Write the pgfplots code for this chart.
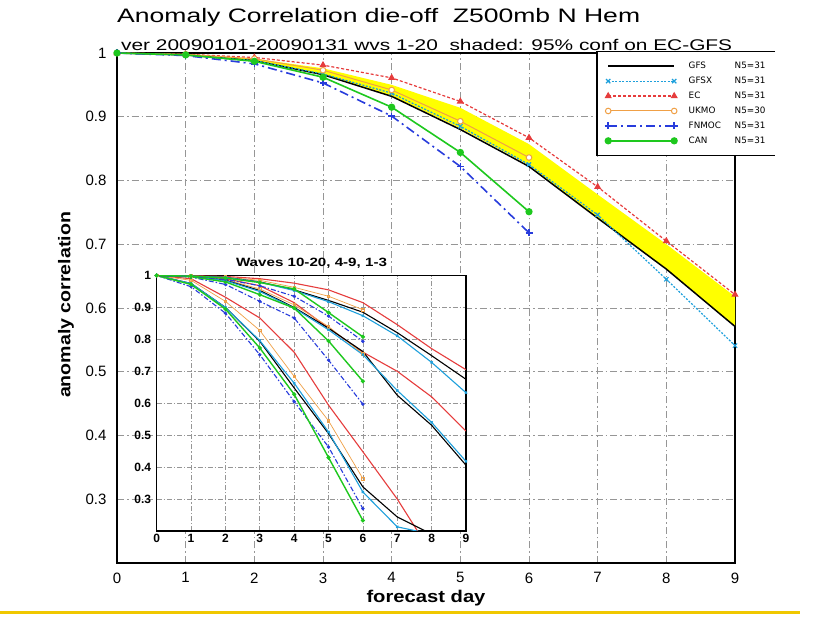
\documentclass[border=0pt]{standalone}
\usepackage{fontspec}
\setmainfont{Liberation Sans}
\newfontfamily\legfont{DejaVu Sans}
\usepackage{graphicx}
\usepackage{pgfplots}
\usepackage{pgfplotstable}
\pgfplotsset{compat=1.18}
\usepgfplotslibrary{fillbetween}

\definecolor{cGFSX}{RGB}{30,160,220}
\definecolor{cEC}{RGB}{230,60,60}
\definecolor{cUK}{RGB}{240,160,70}
\definecolor{cFN}{RGB}{40,60,220}
\definecolor{cCAN}{RGB}{30,200,30}
\definecolor{cBand}{RGB}{255,255,0}
\definecolor{cGold}{RGB}{240,200,0}
\definecolor{cGrid}{RGB}{150,150,150}

\pgfplotstableread{
d GFS GFSX EC UKMO FNMOC CAN lo hi
0 1 1 1 1 1 1 1 1
1 0.997 0.997 0.998 0.998 0.996 0.997 0.997 0.998
2 0.988 0.988 0.993 0.991 0.983 0.987 0.988 0.991
3 0.966 0.967 0.981 0.973 0.953 0.962 0.966 0.976
4 0.932 0.937 0.961 0.942 0.901 0.915 0.933 0.950
5 0.880 0.885 0.924 0.893 0.822 0.844 0.882 0.914
6 0.822 0.825 0.867 0.836 0.718 0.751 0.824 0.857
7 0.741 0.746 0.790 nan nan nan 0.740 0.778
8 0.661 0.645 0.705 nan nan nan 0.661 0.700
9 0.571 0.541 0.621 nan nan nan 0.571 0.618
}\mainT

% waves 1-3
\pgfplotstableread{
d GFS GFSX EC UKMO FNMOC CAN
0 1 1 1 1 1 1
1 0.998 0.998 0.999 0.999 0.997 0.998
2 0.994 0.994 0.997 0.995 0.988 0.992
3 0.980 0.979 0.990 0.985 0.968 0.978
4 0.955 0.953 0.976 0.963 0.935 0.958
5 0.922 0.918 0.955 0.935 0.873 0.884
6 0.885 0.874 0.915 0.893 0.794 0.808
7 0.821 0.811 0.846 nan nan nan
8 0.749 0.728 0.771 nan nan nan
9 0.675 0.633 0.705 nan nan nan
}\wA

% waves 4-9
\pgfplotstableread{
d GFS GFSX EC UKMO FNMOC CAN
0 1 1 1 1 1 1
1 0.997 0.997 0.998 0.997 0.995 0.996
2 0.985 0.984 0.990 0.987 0.972 0.980
3 0.953 0.950 0.968 0.958 0.919 0.940
4 0.900 0.898 0.915 0.908 0.867 0.898
5 0.835 0.830 0.835 0.840 0.735 0.795
6 0.762 0.752 0.760 0.755 0.597 0.669
7 0.625 0.640 0.700 nan nan nan
8 0.531 0.540 0.620 nan nan nan
9 0.406 0.418 0.513 nan nan nan
}\wB

% waves 10-20
\pgfplotstableread{
d GFS GFSX EC UKMO FNMOC CAN
0 1 1 1 1 1 1
1 0.975 0.975 0.990 0.985 0.965 0.972
2 0.900 0.900 0.932 0.919 0.882 0.895
3 0.794 0.796 0.867 0.828 0.752 0.773
4 0.648 0.663 0.760 0.684 0.605 0.628
5 0.505 0.510 0.594 0.545 0.463 0.430
6 0.338 0.322 0.448 0.364 0.270 0.233
7 0.244 0.213 0.300 nan nan nan
8 0.190 0.190 0.130 nan nan nan
}\wC

\pgfplotsset{
 iGFS/.style={black, line width=1.1pt, no markers},
 iGFSX/.style={cGFSX, line width=1.1pt, mark=x, mark size=1.5pt},
 iEC/.style={cEC, line width=1.1pt, no markers},
 iUK/.style={cUK, line width=0.7pt, mark=square, mark size=1.3pt},
 iFN/.style={cFN, line width=1.1pt, dash pattern=on 5pt off 2pt on 1.5pt off 2pt, mark=*, mark size=1.1pt, mark options={solid}},
 iCAN/.style={cCAN, line width=1.4pt, mark=*, mark size=1.3pt},
}

\begin{document}
\begin{tikzpicture}

\begin{axis}[
 at={(117pt,55pt)}, anchor=south west, scale only axis,
 width=618pt, height=510pt,
 xmin=0, xmax=9, ymin=0.2, ymax=1,
 xtick={0,1,2,3,4,5,6,7,8,9},
 ytick={0.3,0.4,0.5,0.6,0.7,0.8,0.9,1},
 major tick length=0pt,
 grid=major,
 grid style={cGrid, line width=0.7pt, dash pattern=on 7pt off 3pt on 1.5pt off 3pt},
 axis line style={line width=1.3pt},
 /pgf/number format/assume math mode=true,
 ticklabel style={font=\fontsize{15}{15}\selectfont},
 xticklabel style={yshift=-6pt},
 yticklabel style={xshift=-7pt},
 legend style={at={(rel axis cs:0.7767,1.003)}, anchor=north west, draw=none,
   name=leg, fill=white, line width=1.4pt, font=\legfont\fontsize{8.8}{9}\selectfont,
   inner xsep=7pt, inner ysep=8pt, row sep=2.9pt,
   /tikz/every odd column/.append style={column sep=9pt}},
 legend cell align=left,
 legend image code/.code={\draw[mark repeat=2,mark phase=1] plot coordinates {(0pt,0pt) (33pt,0pt) (66pt,0pt)};},
]
\addplot[draw=none, name path=lo, forget plot] table[x=d,y=lo]{\mainT};
\addplot[draw=none, name path=hi, forget plot] table[x=d,y=hi]{\mainT};
\addplot[fill=cBand, draw=none, forget plot] fill between[of=lo and hi];

\addplot[black, line width=1.5pt, no markers] table[x=d,y=GFS]{\mainT};
\addlegendentry{\makebox[46pt][l]{GFS}N5=31}
\addplot[cGFSX, line width=1.2pt, dash pattern=on 2pt off 1.5pt, mark=x, mark size=3pt, mark options={solid}] table[x=d,y=GFSX]{\mainT};
\addlegendentry{\makebox[46pt][l]{GFSX}N5=31}
\addplot[cEC, line width=1.2pt, dash pattern=on 3pt off 2pt, mark=triangle*, mark size=3pt, mark options={solid}] table[x=d,y=EC]{\mainT};
\addlegendentry{\makebox[46pt][l]{EC}N5=31}
\addplot[cUK, line width=1pt, mark=*, mark size=2.8pt, mark options={fill=white, solid}] table[x=d,y=UKMO]{\mainT};
\addlegendentry{\makebox[46pt][l]{UKMO}N5=30}
\addplot[cFN, line width=1.6pt, dash pattern=on 9pt off 4pt on 2pt off 4pt, mark=+, mark size=3.5pt, mark options={solid}] table[x=d,y=FNMOC]{\mainT};
\addlegendentry{\makebox[46pt][l]{FNMOC}N5=31}
\addplot[cCAN, line width=1.6pt, mark=*, mark size=2.8pt] table[x=d,y=CAN]{\mainT};
\addlegendentry{\makebox[46pt][l]{CAN}N5=31}
\end{axis}
\draw[line width=1.2pt] (leg.north east) -- (leg.north west) -- (leg.south west) -- (leg.south east);

\begin{axis}[
 at={(156.7pt,87pt)}, anchor=south west, scale only axis,
 width=309.3pt, height=255.5pt,
 xmin=0, xmax=9, ymin=0.2, ymax=1,
 xtick={0,1,2,3,4,5,6,7,8,9},
 ytick={0.3,0.4,0.5,0.6,0.7,0.8,0.9,1},
 axis background/.style={fill=white},
 major tick length=0pt,
 grid=major,
 grid style={cGrid, line width=0.6pt, dash pattern=on 5pt off 2pt on 1.2pt off 2pt},
 axis line style={line width=1.5pt},
 /pgf/number format/assume math mode=true,
 ticklabel style={font=\bfseries\fontsize{12}{12}\selectfont},
 xticklabel style={yshift=0pt},
 yticklabel style={xshift=-2pt},
]
% waves 10-20
\addplot[iEC] table[x=d,y=EC]{\wC};
\addplot[iUK] table[x=d,y=UKMO]{\wC};
\addplot[iGFS] table[x=d,y=GFS]{\wC};
\addplot[iGFSX] table[x=d,y=GFSX]{\wC};
\addplot[iFN] table[x=d,y=FNMOC]{\wC};
\addplot[iCAN] table[x=d,y=CAN]{\wC};
% waves 4-9
\addplot[iEC] table[x=d,y=EC]{\wB};
\addplot[iUK] table[x=d,y=UKMO]{\wB};
\addplot[iGFS] table[x=d,y=GFS]{\wB};
\addplot[iGFSX] table[x=d,y=GFSX]{\wB};
\addplot[iFN] table[x=d,y=FNMOC]{\wB};
\addplot[iCAN] table[x=d,y=CAN]{\wB};
% waves 1-3
\addplot[iEC] table[x=d,y=EC]{\wA};
\addplot[iUK] table[x=d,y=UKMO]{\wA};
\addplot[iGFS] table[x=d,y=GFS]{\wA};
\addplot[iGFSX] table[x=d,y=GFSX]{\wA};
\addplot[iFN] table[x=d,y=FNMOC]{\wA};
\addplot[iCAN] table[x=d,y=CAN]{\wA};
\end{axis}

\node[anchor=base west, inner sep=0pt] at (117pt,595pt)
  {\resizebox{523pt}{\height}{\fontsize{19.5}{20}\selectfont Anomaly Correlation die-off\ \ Z500mb N Hem}};
\node[anchor=base west, inner sep=0pt] at (121pt,567pt)
  {\resizebox{611pt}{\height}{\fontsize{15.5}{16}\selectfont ver 20090101-20090131 wvs 1-20\ \ shaded: 95\% conf on EC-GFS}};
\node[rotate=90, inner sep=0pt] at (66pt,313pt)
  {\resizebox{186pt}{\height}{\bfseries\fontsize{17}{17}\selectfont anomaly correlation}};
\node[inner sep=0pt] at (426pt,20pt)
  {\resizebox{119pt}{\height}{\bfseries\fontsize{17}{17}\selectfont forecast day}};
\node[anchor=base, inner sep=0pt] at (311.5pt,351pt)
  {\resizebox{151pt}{\height}{\bfseries\fontsize{12}{12}\selectfont Waves 10-20, 4-9, 1-3}};
\draw[cGold, line width=3pt] (0pt,5pt) -- (800pt,5pt);
\pgfresetboundingbox
\path[use as bounding box] (0pt,0pt) rectangle (814pt,618pt);
\end{tikzpicture}
\end{document}
